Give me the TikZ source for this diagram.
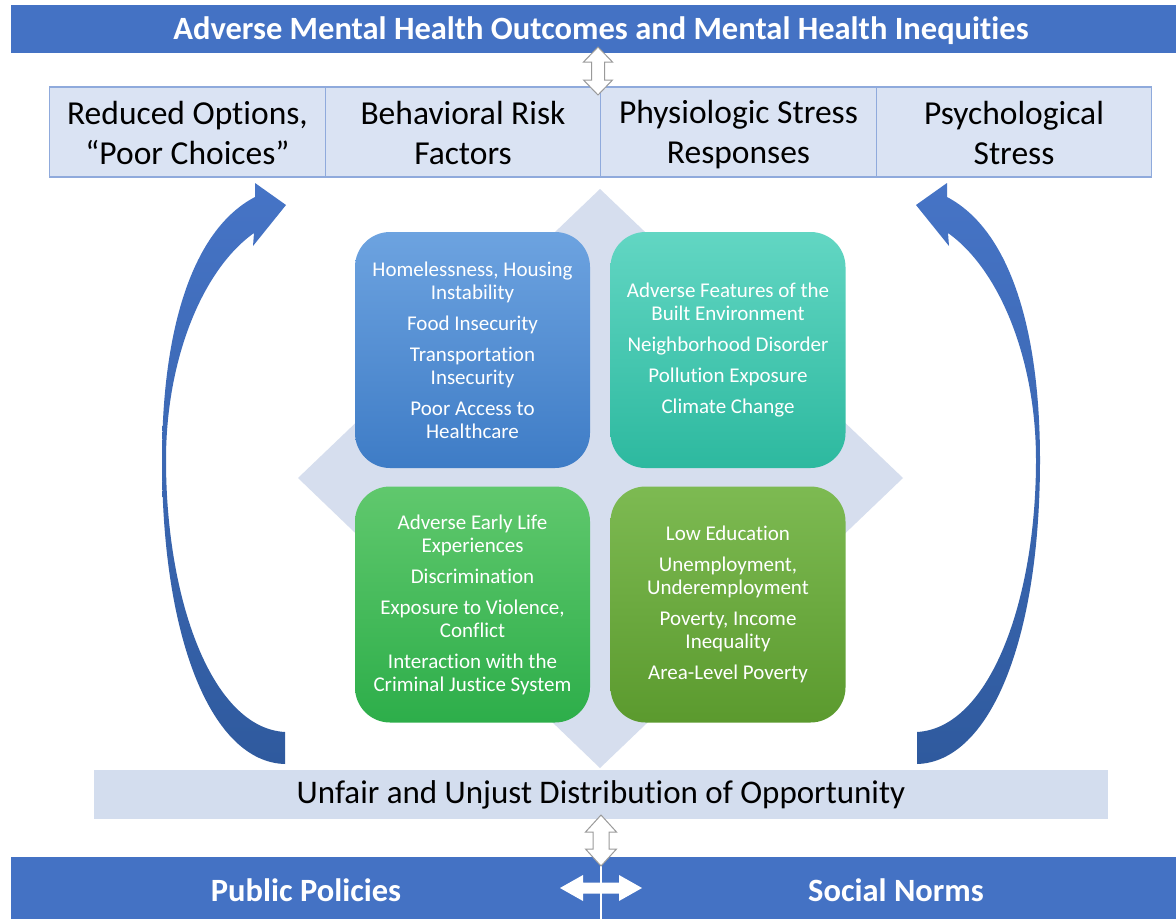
\documentclass[tikz,border=0pt]{standalone}
\usepackage{fontspec}
\setmainfont[Ligatures=NoCommon]{Carlito}
\newcommand{\rowstrut}{\rule[-4pt]{0pt}{32pt}}
\definecolor{barblue}{HTML}{4472C4}
\definecolor{rowfill}{HTML}{DAE3F3}
\definecolor{rowline}{HTML}{8FAADC}
\definecolor{lightbar}{HTML}{D3DDEE}
\definecolor{diam}{HTML}{D6DEEE}
\definecolor{arrline}{HTML}{9A9A9A}
\definecolor{arrtop}{HTML}{4674C6}
\definecolor{arrbot}{HTML}{2F5A9E}
\definecolor{tltop}{HTML}{6DA3E0}
\definecolor{tlbot}{HTML}{3E7CC6}
\definecolor{trtop}{HTML}{62D6C3}
\definecolor{trbot}{HTML}{2DB99F}
\definecolor{bltop}{HTML}{60C86D}
\definecolor{blbot}{HTML}{2DAE4A}
\definecolor{brtop}{HTML}{7DBA52}
\definecolor{brbot}{HTML}{5B9A2E}
\begin{document}
\begin{tikzpicture}[x=1pt,y=-1pt,
  rowcell/.style={draw=rowline, line width=1.2pt, fill=rowfill, minimum width=275.5pt, minimum height=90pt, inner sep=0pt, align=center, text=black, font=\fontsize{33.5}{40}\selectfont},
  factorbox/.style={rounded corners=35pt, minimum width=235pt, minimum height=236pt, inner sep=0pt, align=center, text=white, font=\fontsize{21}{23}\selectfont},
  dblarrow/.style={fill=white, draw=arrline, line width=1pt, line join=miter},
  curvearrow/.style={top color=arrtop, bottom color=arrbot, draw=none},
  bartext/.style={text=white, font=\bfseries\fontsize{32.5}{36}\selectfont, inner sep=0pt}
]
\useasboundingbox (0,0) rectangle (1176,919);
\fill[white] (0,0) rectangle (1176,919);

% top bar
\fill[barblue] (11,5) rectangle (1176,53);
\node[bartext] (title) at (601,31) {Adverse Mental Health Outcomes and Mental Health Inequities};

% row of pathways
\node[rowcell] (c1) at (187.5,132) {\rowstrut Reduced Options,\\\rowstrut “Poor Choices”};
\node[rowcell] (c2) at (463,132) {\rowstrut Behavioral Risk\\\rowstrut Factors};
\node[rowcell] (c3) at (738.5,132) {\rowstrut Physiologic Stress\\\rowstrut Responses};
\node[rowcell] (c4) at (1014,132) {\rowstrut Psychological\\\rowstrut Stress};

% diamond
\fill[diam] (600,189) -- (903,478) -- (600,768) -- (298,478) -- cycle;

% factor boxes
\node[factorbox, top color=tltop, bottom color=tlbot] (tl) at (472.5,350) {Homelessness, Housing\\Instability\\[8pt]Food Insecurity\\[8pt]Transportation\\Insecurity\\[8pt]Poor Access to\\Healthcare};
\node[factorbox, top color=trtop, bottom color=trbot] (tr) at (728,350) {Adverse Features of the\\Built Environment\\[8pt]Neighborhood Disorder\\[8pt]Pollution Exposure\\[8pt]Climate Change};
\node[factorbox, top color=bltop, bottom color=blbot] (bl) at (472.5,604.5) {Adverse Early Life\\Experiences\\[8pt]Discrimination\\[8pt]Exposure to Violence,\\Conflict\\[8pt]Interaction with the\\Criminal Justice System};
\node[factorbox, top color=brtop, bottom color=brbot] (br) at (728,604.5) {Low Education\\[8pt]Unemployment,\\Underemployment\\[8pt]Poverty, Income\\Inequality\\[8pt]Area-Level Poverty};

% curved arrows
\shade[curvearrow] (285,764) .. controls (212,762) and (162,640) .. (162,460)
  .. controls (162,330) and (192,230) .. (255,197) -- (255,183) -- (286,205) -- (253,246) -- (254,233)
  .. controls (202,270) and (166,360) .. (166,460) .. controls (166,600) and (212,728) .. (285,732) -- cycle;
\shade[curvearrow] (917,764) .. controls (990,762) and (1040,640) .. (1040,460)
  .. controls (1040,330) and (1010,230) .. (947,197) -- (947,183) -- (916,205) -- (949,246) -- (948,233)
  .. controls (1000,270) and (1036,360) .. (1036,460) .. controls (1036,600) and (990,728) .. (917,732) -- cycle;

% opportunity bar
\node[fill=lightbar, minimum width=1014pt, minimum height=49pt, inner sep=0pt, font=\fontsize{33}{36}\selectfont] (opp) at (601,794.5) {Unfair and Unjust Distribution of Opportunity};

% bottom bar
\fill[barblue] (11,857) rectangle (1176,919);
\draw[white, line width=1.5pt] (601,866) -- (601,919);
\node[bartext] (pol) at (306,890) {Public Policies};
\node[bartext] (norm) at (896,890) {Social Norms};

% double arrows
\draw[dblarrow] (598,47) -- (612.5,62) -- (604.5,62) -- (604.5,80) -- (612.5,80) -- (598,95) -- (583.5,80) -- (591.5,80) -- (591.5,62) -- (583.5,62) -- cycle;
\draw[dblarrow] (601,815) -- (616.5,832) -- (609,832) -- (609,849) -- (616.5,849) -- (601,866) -- (585.5,849) -- (593,849) -- (593,832) -- (585.5,832) -- cycle;
\fill[white] (560,888) -- (583,875) -- (583,882.5) -- (619,882.5) -- (619,875) -- (642,888) -- (619,901) -- (619,893.5) -- (583,893.5) -- (583,901) -- cycle;
\end{tikzpicture}
\end{document}
